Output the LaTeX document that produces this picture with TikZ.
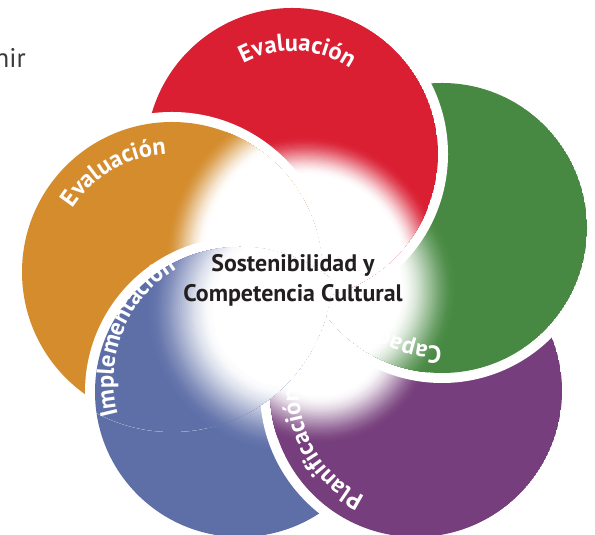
\documentclass[tikz,border=0pt]{standalone}
\usepackage{fontspec}
\setmainfont{PT Sans}
\usetikzlibrary{decorations.text}
\definecolor{cred}{HTML}{DA1F33}
\definecolor{cgreen}{HTML}{478942}
\definecolor{cpurple}{HTML}{763E7C}
\definecolor{cblue}{HTML}{5E6FA8}
\definecolor{corange}{HTML}{D48C2C}
\definecolor{ctext}{HTML}{231F20}
\definecolor{cgray}{HTML}{3A3A3A}
\newcommand\lblfont{\bfseries\fontsize{24.5}{24.5}\selectfont}
% #1 centre, #2 radius, #3 colour, #4 fade focus, #5 full-colour radius, #6 full-white radius
\newcommand\petal[6]{%
  \fill[white] (#1) circle ({#2+10bp});
  \begin{scope}
    \clip (#1) circle (#2);
    \fill[#3] (#1) circle (#2);
    \foreach \k in {0,...,36}{%
      \pgfmathsetmacro\tt{\k/36}%
      \pgfmathsetmacro\rad{#5-(#5-#6)*\tt}%
      \pgfmathtruncatemacro\pc{round(100*(1-(3*\tt*\tt-2*\tt*\tt*\tt)))}%
      \fill[#3!\pc!white] (#4) circle (\rad bp);
    }
    \fill[white] (#4) circle (#6 bp);
  \end{scope}}
\tikzset{
  arclabel/.style={decorate, decoration={text along path, text color=white, text={|\lblfont|#1}}},
  arclabelc/.style={decorate, decoration={text along path, text color=white, text align=center, text={|\lblfont|#1}}}
}
\begin{document}
\begin{tikzpicture}[x=1bp,y=1bp]
\useasboundingbox (0,0) rectangle (595,535);
\fill[white] (0,0) rectangle (595,535);
% circle centres
\coordinate (cR) at (292,381);
\coordinate (cG) at (442,307);
\coordinate (cP) at (416,144);
\coordinate (cB) at (240,143);
\coordinate (cO) at (172,263);
\coordinate (tB) at (244.5,154);
% fade foci
\coordinate (fR) at (305,260);
\coordinate (fG) at (330,245);
\coordinate (fP) at (320,205);
\coordinate (fB) at (290,225);
\coordinate (fO) at (330,275);
% petals (cyclic stacking)
\petal{cB}{145bp}{cblue}{fB}{145}{75}
\petal{cP}{146bp}{cpurple}{fP}{116}{65}
\petal{cG}{145bp}{cgreen}{fG}{128}{70}
\petal{cR}{146bp}{cred}{fR}{140}{100}
\petal{cO}{150bp}{corange}{fO}{166}{125}
\begin{scope}
  \clip (cO) circle (160bp);
  \petal{cB}{145bp}{cblue}{fB}{145}{75}
\end{scope}
% labels along arcs
\path[arclabelc=Evaluación] (cR) ++(140:103bp) arc[start angle=140, end angle=34, radius=103bp];
\path[arclabelc=Evaluación] (cO) ++(175:118bp) arc[start angle=175, end angle=65, radius=118bp];
\path[arclabel=Capacitación] (cG) ++(270:118bp) arc[start angle=270, end angle=150, radius=118bp];
\path[arclabel=Planificación] (cP) ++(244:117bp) arc[start angle=244, end angle=120, radius=117bp];
\path[arclabel=Implementación] (tB) ++(195:131bp) arc[start angle=195, end angle=60, radius=131bp];
% centre text
\node[font=\bfseries\fontsize{24}{30}\selectfont, align=center, text=ctext] (title) at (293,254.5) {Sostenibilidad y\\Competencia Cultural};
\node[anchor=base east, font=\fontsize{27}{30}\selectfont, text=cgray, inner sep=0pt] (nir) at (26,467) {nir};
\end{tikzpicture}
\end{document}
